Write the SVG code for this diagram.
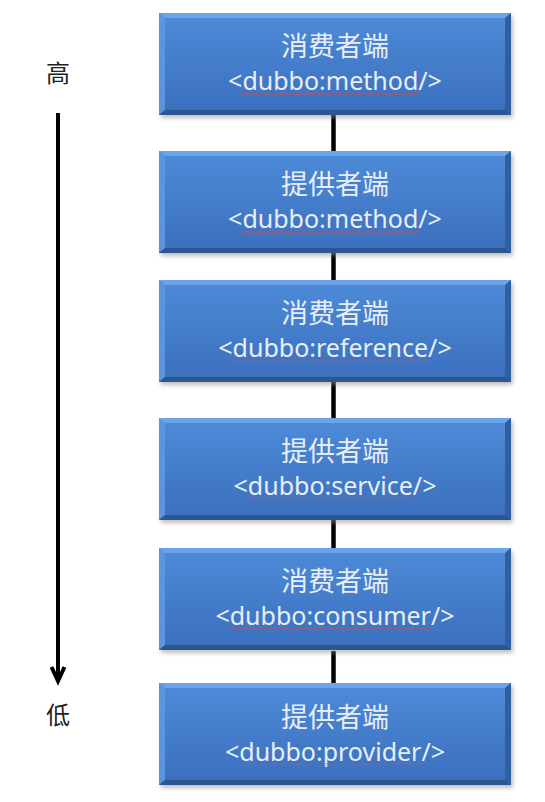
<svg xmlns="http://www.w3.org/2000/svg" width="545" height="802" viewBox="0 0 545 802">
<defs>
<linearGradient id="fillg" x1="0" y1="0" x2="0" y2="1">
<stop offset="0" stop-color="#4d8bd8"/>
<stop offset="1" stop-color="#3b6fbd"/>
</linearGradient>
<filter id="sh" x="-10%" y="-10%" width="120%" height="130%">
<feGaussianBlur stdDeviation="2"/>
</filter>
<pattern id="wave" width="4" height="3" patternUnits="userSpaceOnUse">
<path d="M0,2.5 L2,0.5 L4,2.5" fill="none" stroke="#d84848" stroke-width="0.9"/>
</pattern>
<g id="box">
<rect x="2" y="3" width="352" height="102" fill="#8a8a8a" opacity="0.55" filter="url(#sh)"/>
<rect x="0" y="0" width="352" height="102" fill="url(#fillg)"/>
<polygon points="0,0 352,0 346,5 6,5" fill="#6aa4ea"/>
<polygon points="0,0 6,5 6,97 0,102" fill="#5b95de"/>
<polygon points="352,0 352,102 346,97 346,5" fill="#305f9f"/>
<polygon points="0,102 352,102 346,97 6,97" fill="#2c5690"/>
</g>
</defs>
<style>
.cn{font-family:"Noto Sans CJK SC",sans-serif;font-size:27px;fill:#e8eef8;text-anchor:middle}
.en{font-family:"Noto Sans","Liberation Sans",sans-serif;font-size:25px;fill:#e8eef8;text-anchor:middle}
.lv{font-family:"Noto Sans CJK SC",sans-serif;font-size:24px;fill:#222;text-anchor:middle}
.sq{fill:url(#wave)}
.conn{stroke:#000;stroke-width:4.5}
</style>
<g id="connectors">
<line class="conn" x1="333.5" y1="115" x2="333.5" y2="151"/>
<line class="conn" x1="333.5" y1="253" x2="333.5" y2="280"/>
<line class="conn" x1="333.5" y1="381" x2="333.5" y2="418"/>
<line class="conn" x1="333.5" y1="520" x2="333.5" y2="548"/>
<line class="conn" x1="333.5" y1="651" x2="333.5" y2="683"/>
<line x1="58" y1="113" x2="58" y2="680" stroke="#000" stroke-width="4"/>
<polyline points="51.5,667 58,681 64.5,667" fill="none" stroke="#000" stroke-width="4" stroke-linejoin="miter"/>
</g>
<g id="level-high"><text class="lv" x="58" y="82">高</text></g>
<g id="level-low"><text class="lv" x="58" y="724">低</text></g>
<g id="n1">
<use href="#box" x="159" y="13"/>
<text class="cn" x="335" y="56">消费者端</text>
<text class="en" x="335" y="90">&lt;dubbo:method/&gt;</text>
<rect class="sq" x="242" y="92" width="177" height="3"/>
</g>
<g id="n2">
<use href="#box" x="159" y="151"/>
<text class="cn" x="335" y="194">提供者端</text>
<text class="en" x="335" y="228">&lt;dubbo:method/&gt;</text>
<rect class="sq" x="242" y="230" width="177" height="3"/>
</g>
<g id="n3">
<use href="#box" x="159" y="280"/>
<text class="cn" x="335" y="323">消费者端</text>
<text class="en" x="335" y="357">&lt;dubbo:reference/&gt;</text>
<rect class="sq" x="232" y="359" width="197" height="3"/>
</g>
<g id="n4">
<use href="#box" x="159" y="418"/>
<text class="cn" x="335" y="461">提供者端</text>
<text class="en" x="335" y="495">&lt;dubbo:service/&gt;</text>
<rect class="sq" x="247" y="497" width="167" height="3"/>
</g>
<g id="n5">
<use href="#box" x="159" y="548"/>
<text class="cn" x="335" y="591">消费者端</text>
<text class="en" x="335" y="625">&lt;dubbo:consumer/&gt;</text>
<rect class="sq" x="229" y="627" width="203" height="3"/>
</g>
<g id="n6">
<use href="#box" x="159" y="683"/>
<text class="cn" x="335" y="727">提供者端</text>
<text class="en" x="335" y="761">&lt;dubbo:provider/&gt;</text>
<rect class="sq" x="238" y="763" width="185" height="3"/>
</g>
</svg>
